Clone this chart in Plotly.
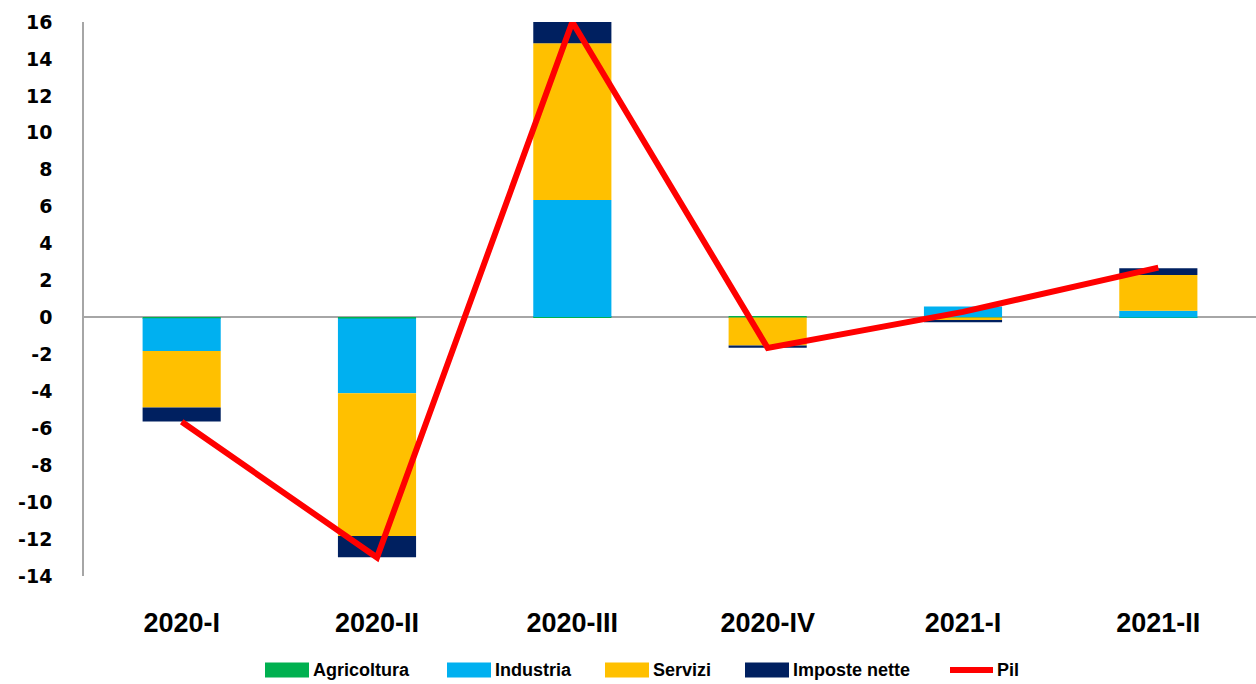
import plotly.graph_objects as go

# Quarterly contributions to GDP growth (percentage points)
quarters = ["2020-I", "2020-II", "2020-III", "2020-IV", "2021-I", "2021-II"]
agricoltura = [-0.04, -0.05, 0.03, 0.03, 0.01, -0.02]
industria = [-1.77, -4.06, 6.33, 0.0, 0.58, 0.36]
servizi = [-3.06, -7.73, 8.49, -1.52, -0.16, 1.94]
imposte_nette = [-0.76, -1.15, 1.18, -0.12, -0.10, 0.37]
pil = [-5.65, -13.0, 16.0, -1.65, 0.3, 2.7]

y_ticks = list(range(-14, 17, 2))

series = [
    ("Agricoltura", agricoltura, "#00B050"),
    ("Industria", industria, "#00B0F0"),
    ("Servizi", servizi, "#FFC000"),
    ("Imposte nette", imposte_nette, "#002060"),
]
pil_color = "#FF0000"

fig = go.Figure()
for name, vals, col in series:
    fig.add_trace(go.Bar(x=quarters, y=vals, name=name, marker=dict(color=col, line=dict(width=0)),
                         showlegend=False))
fig.add_trace(go.Scatter(x=quarters, y=pil, name="Pil", mode="lines",
                         line=dict(color=pil_color, width=6), cliponaxis=False, showlegend=False))

# plot-area geometry in pixels, used to place the hand-built legend
W, H = 1256, 684
L, R, T, B = 84, 1256, 22, 576


def px_x(p):
    return (p - L) / (R - L)


def px_y(p):
    return (B - p) / (B - T)


shapes = []
annotations = []
legend_y = 670
key_w, key_h = 44, 15
legend_x = [265, 447, 605, 745]
for (name, _, col), x0 in zip(series, legend_x):
    shapes.append(dict(type="rect", xref="paper", yref="paper",
                       x0=px_x(x0), x1=px_x(x0 + key_w),
                       y0=px_y(legend_y + key_h / 2), y1=px_y(legend_y - key_h / 2),
                       fillcolor=col, line=dict(width=0)))
    annotations.append(dict(xref="paper", yref="paper", x=px_x(x0 + key_w + 2), y=px_y(legend_y),
                            xanchor="left", yanchor="middle", text=name, showarrow=False,
                            font=dict(family="Liberation Sans", size=18, color="black", weight="bold")))
# line key for Pil
shapes.append(dict(type="line", xref="paper", yref="paper",
                   x0=px_x(950), x1=px_x(993), y0=px_y(legend_y), y1=px_y(legend_y),
                   line=dict(color=pil_color, width=6)))
annotations.append(dict(xref="paper", yref="paper", x=px_x(995), y=px_y(legend_y),
                        xanchor="left", yanchor="middle", text="Pil", showarrow=False,
                        font=dict(family="Liberation Sans", size=18, color="black", weight="bold")))

fig.update_layout(
    width=W, height=H,
    margin=dict(l=L, r=W - R, t=T, b=H - B, pad=0),
    paper_bgcolor="white", plot_bgcolor="white",
    barmode="relative", bargap=0.6,
    shapes=shapes, annotations=annotations,
    showlegend=False,
)
fig.update_xaxes(
    showgrid=False, showline=False, zeroline=False, ticks="",
    tickfont=dict(family="Liberation Sans", size=27, color="black", weight="bold"),
    ticklabelstandoff=28,
)
fig.update_yaxes(
    range=[-14, 16], tickvals=y_ticks, ticktext=[str(v) for v in y_ticks],
    showgrid=False, showline=True, linecolor="#A6A6A6", linewidth=1.5,
    zeroline=True, zerolinecolor="#A6A6A6", zerolinewidth=2,
    ticks="", ticklabelstandoff=26,
    tickfont=dict(family="DejaVu Sans", size=19, color="black", weight="bold"),
)

fig.write_html("out.html")
